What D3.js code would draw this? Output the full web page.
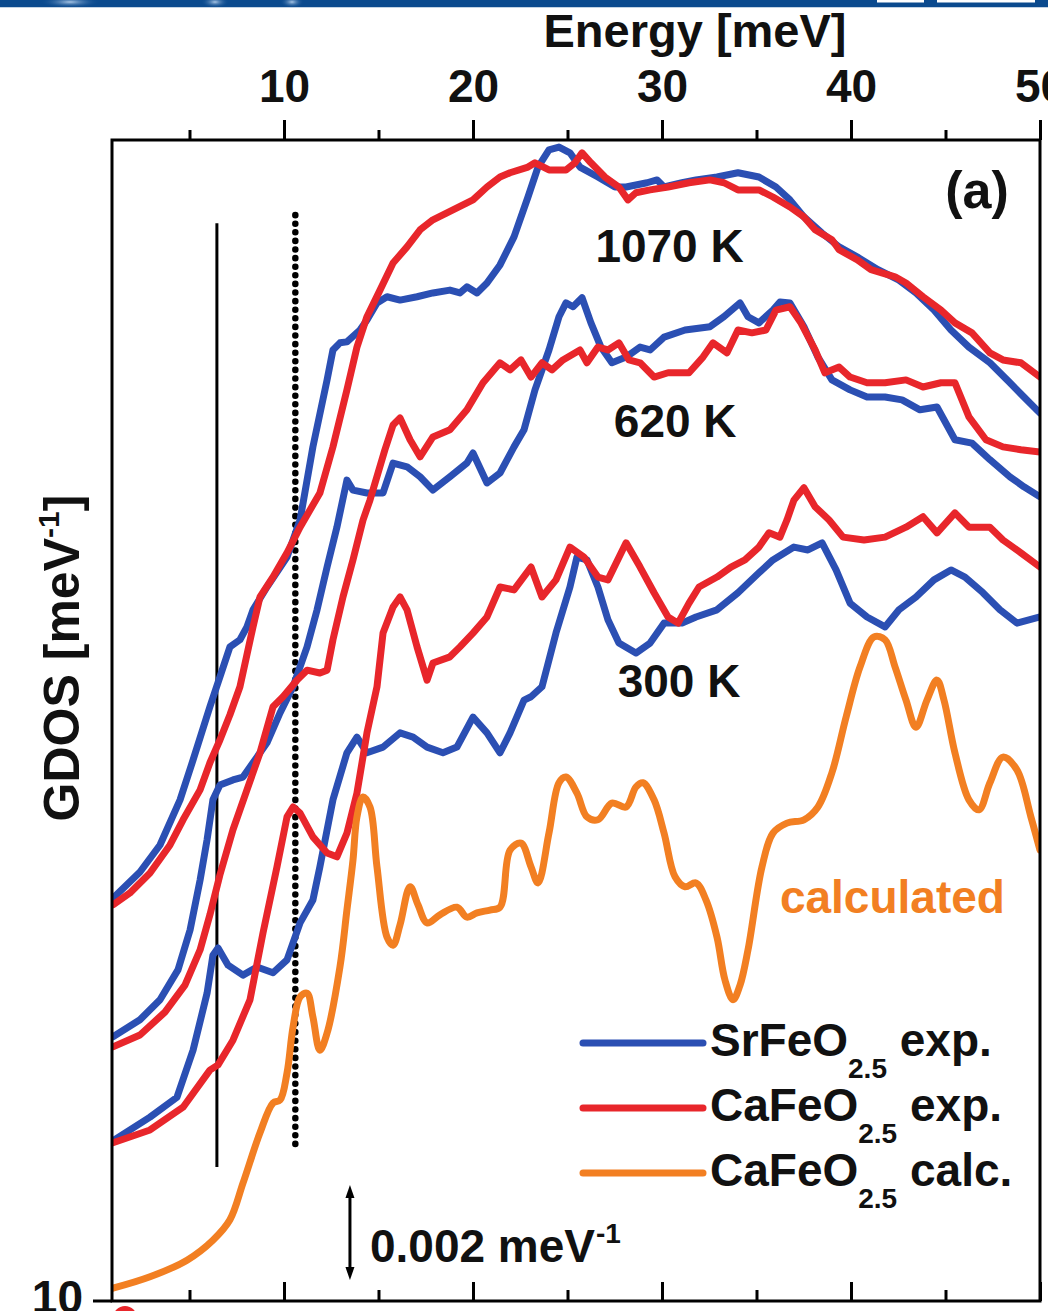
<!DOCTYPE html>
<html>
<head>
<meta charset="utf-8">
<script src="https://cdn.jsdelivr.net/npm/d3@7"></script>
<style>
  body { margin: 0; background: #fff; }
  svg { display: block; }
  text { font-family: "Liberation Sans", Arial, Helvetica, sans-serif; font-weight: bold; fill: #111; }
</style>
</head>
<body>
<svg id="chart" width="1048" height="1311"></svg>
<script>
// Generalized density of states vs. energy.
// Energy in meV; GDOS in units of 1e-3 meV^-1, each temperature set offset vertically.

const sr1070 = [[0.95,8.48],[2.38,9.03],[3.44,9.60],[4.50,10.55],[5.19,11.39],[6.08,12.51],[6.61,13.14],[7.14,13.77],[7.67,13.92],[8.04,14.19],[8.36,14.55],[9.10,15.03],[10.16,15.66],[10.85,16.44],[11.53,17.98],[12.28,19.39],[12.59,20.02],[12.96,20.17],[13.33,20.19],[14.02,20.44],[14.39,20.65],[14.92,21.01],[15.45,21.14],[16.14,21.07],[17.04,21.14],[17.88,21.22],[18.78,21.28],[19.31,21.22],[19.68,21.35],[20.21,21.22],[20.74,21.43],[21.43,21.81],[22.17,22.40],[22.91,23.24],[23.44,23.87],[24.02,24.23],[24.55,24.29],[25.13,24.17],[25.66,23.87],[26.61,23.66],[27.51,23.45],[28.10,23.45],[29.21,23.54],[29.74,23.60],[30.11,23.45],[31.06,23.54],[31.80,23.60],[32.91,23.66],[34.02,23.75],[35.13,23.66],[36.03,23.45],[36.77,23.18],[37.51,22.82],[38.47,22.48],[39.37,22.19],[40.32,21.98],[41.43,21.71],[42.54,21.49],[43.44,21.22],[44.39,20.86],[45.29,20.44],[46.24,20.08],[47.35,19.75],[48.41,19.33],[49.15,19.03],[50.00,18.69]];

const ca1070 = [[0.95,8.34],[1.85,8.59],[2.91,9.01],[3.97,9.60],[4.66,10.13],[5.56,10.76],[6.08,11.33],[6.61,11.81],[7.14,12.34],[7.67,12.93],[8.36,14.19],[8.73,14.82],[9.42,15.24],[10.16,15.75],[10.85,16.29],[11.90,17.01],[12.59,17.98],[13.33,19.18],[13.86,20.08],[14.39,20.72],[15.08,21.28],[15.77,21.85],[16.51,22.19],[17.20,22.55],[17.88,22.76],[18.94,22.97],[20.00,23.18],[20.74,23.45],[21.43,23.66],[21.96,23.75],[22.91,23.87],[23.28,23.96],[24.02,23.81],[24.92,23.81],[25.40,23.96],[25.77,24.17],[26.24,23.96],[26.98,23.66],[27.72,23.45],[28.20,23.18],[28.62,23.33],[29.37,23.39],[30.32,23.45],[31.43,23.54],[32.54,23.60],[33.28,23.54],[34.02,23.39],[35.13,23.39],[35.87,23.24],[36.77,23.03],[37.51,22.82],[38.10,22.55],[38.99,22.34],[39.37,22.13],[40.32,21.92],[41.06,21.71],[42.33,21.56],[42.91,21.43],[43.81,21.14],[44.76,20.86],[45.50,20.59],[46.40,20.38],[47.35,19.96],[48.04,19.81],[48.99,19.75],[50.00,19.45]];

const sr620 = [[0.95,5.56],[2.38,5.92],[3.44,6.34],[4.39,6.97],[5.03,7.81],[5.56,8.86],[5.93,9.71],[6.24,10.55],[6.61,10.86],[7.30,10.97],[7.83,11.03],[8.36,11.33],[9.10,11.75],[9.79,12.38],[10.48,12.93],[11.22,13.77],[11.75,14.55],[12.28,15.45],[12.80,16.29],[13.33,17.28],[13.65,17.07],[14.39,17.01],[15.24,17.01],[15.77,17.64],[16.51,17.56],[17.20,17.35],[17.88,17.07],[18.78,17.35],[19.68,17.64],[20.00,17.85],[20.74,17.22],[21.43,17.43],[22.17,17.98],[22.70,18.34],[23.28,19.18],[24.02,20.02],[24.55,20.72],[24.92,21.01],[25.29,20.93],[25.77,21.12],[26.24,20.59],[26.77,20.08],[27.35,19.75],[28.10,19.87],[28.84,20.08],[29.37,20.02],[30.11,20.29],[31.22,20.44],[32.54,20.51],[33.28,20.72],[34.13,21.01],[34.55,20.72],[35.13,20.59],[35.87,20.86],[36.24,21.03],[36.77,21.01],[37.51,20.51],[38.25,19.87],[38.99,19.39],[39.95,19.18],[40.85,19.03],[41.80,19.03],[42.70,18.97],[43.65,18.76],[44.55,18.82],[45.50,18.13],[46.40,18.06],[47.35,17.71],[48.41,17.35],[49.15,17.14],[50.00,16.93]];

const ca620 = [[0.95,5.35],[2.38,5.60],[3.70,6.08],[4.76,6.65],[5.56,7.39],[6.08,8.13],[6.61,8.97],[7.30,9.92],[8.04,10.76],[8.73,11.54],[9.42,12.51],[9.95,12.72],[10.69,13.07],[11.22,13.28],[11.90,13.22],[12.28,13.28],[12.59,13.92],[13.12,14.82],[13.65,15.60],[14.18,16.44],[14.55,16.86],[15.34,17.92],[15.77,18.44],[16.14,18.59],[16.67,18.13],[17.20,17.77],[17.88,18.19],[18.78,18.34],[19.68,18.76],[20.53,19.33],[21.43,19.75],[21.96,19.60],[22.54,19.81],[23.07,19.45],[23.65,19.75],[24.18,19.60],[24.76,19.81],[25.66,20.02],[26.03,19.75],[26.61,20.08],[27.14,20.02],[27.72,20.17],[28.25,19.81],[28.84,19.75],[29.58,19.45],[30.32,19.54],[31.43,19.54],[32.17,19.87],[32.70,20.17],[33.44,19.96],[34.02,20.44],[34.76,20.38],[35.50,20.44],[36.03,20.86],[36.77,20.93],[37.35,20.59],[38.10,20.02],[38.62,19.54],[39.37,19.66],[39.95,19.45],[40.85,19.33],[41.80,19.33],[42.91,19.39],[43.81,19.24],[44.76,19.33],[45.50,19.33],[46.24,18.61],[47.14,18.13],[48.04,17.98],[48.99,17.92],[50.00,17.87]];

const sr300 = [[0.95,3.37],[2.91,3.87],[4.34,4.29],[5.19,5.28],[5.93,6.48],[6.24,7.28],[6.51,7.43],[7.04,7.07],[7.83,6.86],[8.57,7.03],[9.42,6.91],[10.16,7.18],[10.85,7.96],[11.53,8.44],[11.90,9.14],[12.59,10.55],[13.33,11.54],[13.86,11.87],[14.39,11.54],[15.24,11.66],[16.14,11.96],[16.83,11.87],[17.57,11.66],[18.41,11.54],[19.15,11.66],[20.00,12.29],[20.74,11.96],[21.43,11.54],[21.96,11.96],[22.70,12.65],[23.07,12.72],[23.65,12.93],[24.39,14.06],[25.13,15.03],[25.50,15.66],[26.03,15.60],[26.61,15.03],[27.14,14.34],[27.72,13.85],[28.62,13.64],[29.37,13.85],[30.11,14.27],[31.06,14.27],[31.80,14.40],[32.91,14.55],[34.02,14.91],[35.13,15.33],[35.87,15.60],[36.98,15.87],[37.72,15.81],[38.47,15.96],[39.21,15.39],[39.95,14.69],[40.85,14.40],[41.80,14.19],[42.54,14.55],[43.44,14.82],[44.39,15.18],[45.29,15.39],[46.03,15.24],[46.98,14.91],[47.88,14.55],[48.78,14.27],[50.00,14.40]];

const ca300 = [[0.95,3.33],[2.91,3.60],[4.66,4.08],[6.08,4.86],[6.51,4.97],[7.30,5.49],[8.20,6.34],[8.89,7.75],[9.63,9.14],[10.16,10.19],[10.48,10.40],[10.85,10.27],[11.53,9.77],[12.28,9.43],[12.80,9.35],[13.33,9.85],[13.86,10.69],[14.39,11.96],[14.92,12.93],[15.24,14.06],[15.77,14.61],[16.14,14.82],[16.51,14.55],[17.04,13.77],[17.57,13.07],[17.88,13.43],[18.78,13.56],[19.31,13.77],[20.00,14.06],[20.74,14.40],[21.43,15.03],[22.17,14.97],[23.07,15.45],[23.65,14.82],[24.39,15.18],[25.13,15.87],[25.87,15.66],[26.61,15.24],[27.14,15.18],[28.10,15.96],[28.84,15.45],[29.58,14.91],[30.32,14.40],[30.85,14.27],[31.43,14.69],[31.96,15.03],[32.91,15.24],[33.65,15.45],[34.39,15.60],[35.13,15.87],[35.66,16.17],[36.24,16.08],[36.61,16.44],[36.98,16.86],[37.51,17.12],[38.10,16.72],[38.84,16.44],[39.58,16.08],[40.69,16.02],[41.80,16.08],[42.91,16.29],[43.81,16.51],[44.55,16.17],[45.50,16.59],[46.24,16.29],[47.35,16.29],[48.04,16.02],[48.99,15.75],[50.00,15.45]];

const caCalc = [[0.95,0.27],[2.91,0.51],[4.87,0.86],[6.24,1.28],[7.14,1.71],[7.83,2.48],[8.73,3.54],[9.42,4.17],[9.79,4.23],[10.16,4.80],[10.48,5.77],[10.85,6.40],[11.22,6.48],[11.53,5.98],[11.90,5.28],[12.28,5.64],[12.96,7.03],[13.33,8.23],[13.65,9.28],[13.86,10.19],[14.18,10.61],[14.55,10.40],[14.92,9.14],[15.45,7.66],[15.77,7.49],[16.14,7.92],[16.67,8.72],[17.09,8.34],[17.57,7.96],[18.25,8.13],[19.15,8.29],[19.68,8.08],[20.21,8.17],[20.90,8.23],[21.43,8.29],[21.96,9.49],[22.54,9.64],[23.07,9.14],[23.44,8.80],[24.02,9.85],[24.55,10.91],[24.92,11.03],[25.50,10.69],[26.03,10.19],[26.61,10.13],[27.35,10.48],[28.10,10.40],[28.62,10.82],[28.99,10.91],[29.58,10.55],[30.11,9.85],[30.69,8.93],[31.22,8.72],[31.80,8.80],[32.33,8.44],[32.91,7.66],[33.33,6.76],[33.76,6.34],[34.13,6.65],[34.55,7.39],[35.29,9.14],[35.87,9.85],[36.61,10.06],[37.51,10.13],[38.25,10.40],[38.99,11.12],[39.74,12.29],[40.48,13.35],[41.22,13.98],[41.80,13.92],[42.33,13.35],[42.91,12.65],[43.44,12.08],[44.02,12.65],[44.55,13.07],[44.92,12.65],[45.50,11.54],[46.24,10.55],[46.77,10.34],[47.35,10.91],[48.04,11.45],[48.78,11.18],[49.52,10.19],[50.00,9.49]];

const majorTicks = [10, 20, 30, 40, 50];
const minorTicks = [5, 15, 25, 35, 45];

// Reference energies marked by vertical lines (meV), with their vertical extent
const markerLines = [
  { e: 6.45, lo: 2.82, hi: 22.69, dotted: false },
  { e: 10.6, lo: 3.18, hi: 22.86, dotted: true }
];

const tempLabels = [
  { text: "1070 K", e: 30.4, v: 21.87 },
  { text: "620 K",  e: 30.7, v: 18.19 },
  { text: "300 K",  e: 30.9, v: 12.72 }
];

const scaleBar = { e: 13.49, v0: 0.44, size: 2 };   // 2e-3 meV^-1

const BLUE = "#2b4fb3", RED = "#e8262b", ORANGE = "#f27f22";

const legendItems = [
  { name: "SrFeO", sub: "2.5", tail: " exp.",  color: BLUE },
  { name: "CaFeO", sub: "2.5", tail: " exp.",  color: RED },
  { name: "CaFeO", sub: "2.5", tail: " calc.", color: ORANGE }
];

const series = [
  { data: sr1070, color: BLUE },
  { data: sr620,  color: BLUE },
  { data: sr300,  color: BLUE },
  { data: ca1070, color: RED },
  { data: ca620,  color: RED },
  { data: ca300,  color: RED },
  { data: caCalc, color: ORANGE, smooth: true }
];

(function draw() {
  const svg = d3.select("#chart");
  const pL = 112, pR = 1040, pT = 140, pB = 1301;

  const x = d3.scaleLinear().domain([0.9, 50]).range([pL, pR]);
  const y = d3.scaleLinear().domain([0, 24.44]).range([pB, pT]);

  // journal banner strip
  const defs = svg.append("defs");
  const glow = defs.append("radialGradient").attr("id", "glow");
  glow.append("stop").attr("offset", "0%").attr("stop-color", "#b9d3ef").attr("stop-opacity", 0.9);
  glow.append("stop").attr("offset", "100%").attr("stop-color", "#0b4a8e").attr("stop-opacity", 0);
  svg.append("rect").attr("x", 0).attr("y", 0).attr("width", 1048).attr("height", 7.5).attr("fill", "#0b4a8e");
  [[70, 30], [215, 14], [292, 12]].forEach(([cx, rx]) => {
    svg.append("ellipse").attr("cx", cx).attr("cy", 2).attr("rx", rx).attr("ry", 6).attr("fill", "url(#glow)");
  });
  svg.append("rect").attr("x", 877).attr("y", 0).attr("width", 47).attr("height", 2.5).attr("fill", "#fff");
  svg.append("rect").attr("x", 937).attr("y", 0).attr("width", 98).attr("height", 2.5).attr("fill", "#fff");
  svg.append("rect").attr("x", 0).attr("y", 7.5).attr("width", 1048).attr("height", 1303.5).attr("fill", "#fff");

  // clip region for the data
  defs.append("clipPath").attr("id", "plotClip")
    .append("rect").attr("x", pL).attr("y", pT).attr("width", pR - pL).attr("height", pB - pT);

  // vertical reference lines
  markerLines.forEach(m => {
    svg.append("line")
      .attr("x1", x(m.e)).attr("x2", x(m.e))
      .attr("y1", y(m.hi)).attr("y2", y(m.lo))
      .attr("stroke", "#000")
      .attr("stroke-width", m.dotted ? 6.5 : 3)
      .attr("stroke-linecap", m.dotted ? "round" : "butt")
      .attr("stroke-dasharray", m.dotted ? "0.1 8.5" : null);
  });

  // data curves
  const jagged = d3.line().x(d => x(d[0])).y(d => y(d[1]));
  const smoothLine = d3.line().curve(d3.curveCatmullRom.alpha(0.5)).x(d => x(d[0])).y(d => y(d[1]));
  const curveG = svg.append("g").attr("clip-path", "url(#plotClip)");
  series.forEach(s => {
    curveG.append("path")
      .attr("d", (s.smooth ? smoothLine : jagged)(s.data))
      .attr("fill", "none")
      .attr("stroke", s.color)
      .attr("stroke-width", 7)
      .attr("stroke-linejoin", "round")
      .attr("stroke-linecap", "round");
  });

  // frame
  svg.append("rect")
    .attr("x", pL).attr("y", pT).attr("width", pR - pL).attr("height", pB - pT)
    .attr("fill", "none").attr("stroke", "#000").attr("stroke-width", 3);

  // top energy axis (ticks outward), bottom axis (ticks inward)
  const axes = [
    svg.append("g").attr("transform", `translate(0,${pT})`)
      .call(d3.axisTop(x).tickValues(majorTicks).tickSize(20).tickSizeOuter(0).tickPadding(18).tickFormat(d3.format("d"))),
    svg.append("g").attr("transform", `translate(0,${pT})`)
      .call(d3.axisTop(x).tickValues(minorTicks).tickSize(10).tickSizeOuter(0).tickFormat("")),
    svg.append("g").attr("transform", `translate(0,${pB})`)
      .call(d3.axisTop(x).tickValues(majorTicks).tickSize(19).tickSizeOuter(0).tickFormat("")),
    svg.append("g").attr("transform", `translate(0,${pB})`)
      .call(d3.axisTop(x).tickValues(minorTicks).tickSize(11).tickSizeOuter(0).tickFormat(""))
  ];
  axes.forEach(g => {
    g.attr("font-family", null).attr("font-size", null);
    g.select(".domain").remove();
    g.selectAll(".tick line").attr("stroke", "#000").attr("stroke-width", 3);
    g.selectAll(".tick text").attr("font-size", 46).attr("fill", "#111");
  });

  // axis titles
  svg.append("text").attr("x", 695).attr("y", 47).attr("text-anchor", "middle")
    .attr("font-size", 47).text("Energy [meV]");

  const yTitle = svg.append("text")
    .attr("transform", "translate(79,658) rotate(-90)")
    .attr("text-anchor", "middle").attr("font-size", 50);
  yTitle.append("tspan").text("GDOS [meV");
  yTitle.append("tspan").attr("font-size", 30).attr("dy", -20).text("-1");
  yTitle.append("tspan").attr("dy", 20).text("]");

  // panel tag and temperature labels
  svg.append("text").attr("x", 977).attr("y", 208).attr("text-anchor", "middle")
    .attr("font-size", 52).text("(a)");
  tempLabels.forEach(t => {
    svg.append("text").attr("x", x(t.e)).attr("y", y(t.v)).attr("text-anchor", "middle")
      .attr("font-size", 46).text(t.text);
  });
  svg.append("text").attr("x", x(36.24)).attr("y", y(8.17))
    .attr("font-size", 46).style("fill", ORANGE).text("calculated");

  // legend
  legendItems.forEach((d, i) => {
    const ly = 1043 + i * 65;
    svg.append("line").attr("x1", 583).attr("x2", 703).attr("y1", ly).attr("y2", ly)
      .attr("stroke", d.color).attr("stroke-width", 7).attr("stroke-linecap", "round");
    const t = svg.append("text").attr("x", 710).attr("y", ly + 13).attr("font-size", 46);
    t.append("tspan").text(d.name);
    t.append("tspan").attr("font-size", 28).attr("dy", 22).text(d.sub);
    t.append("tspan").attr("dy", -22).text(d.tail);
  });

  // scale bar: 0.002 meV^-1
  const sbx = x(scaleBar.e), sbTop = y(scaleBar.v0 + scaleBar.size), sbBot = y(scaleBar.v0);
  svg.append("line").attr("x1", sbx).attr("x2", sbx).attr("y1", sbTop + 8).attr("y2", sbBot - 8)
    .attr("stroke", "#000").attr("stroke-width", 3);
  svg.append("path").attr("d", `M${sbx},${sbTop} L${sbx - 4.5},${sbTop + 13} L${sbx + 4.5},${sbTop + 13} Z`).attr("fill", "#000");
  svg.append("path").attr("d", `M${sbx},${sbBot} L${sbx - 4.5},${sbBot - 13} L${sbx + 4.5},${sbBot - 13} Z`).attr("fill", "#000");
  const sbText = svg.append("text").attr("x", sbx + 20).attr("y", 1262).attr("font-size", 46);
  sbText.append("tspan").text("0.002 meV");
  sbText.append("tspan").attr("font-size", 28).attr("dy", -19).attr("dx", 1).text("-1");

  // top of the next panel: its "10" tick
  svg.append("line").attr("x1", 93).attr("x2", pL).attr("y1", pB).attr("y2", pB)
    .attr("stroke", "#000").attr("stroke-width", 3);
  svg.append("text").attr("x", 83).attr("y", 1313).attr("text-anchor", "end").attr("font-size", 46).text("10");
  svg.append("circle").attr("cx", 125).attr("cy", 1318).attr("r", 12).attr("fill", RED);
})();
</script>
</body>
</html>
